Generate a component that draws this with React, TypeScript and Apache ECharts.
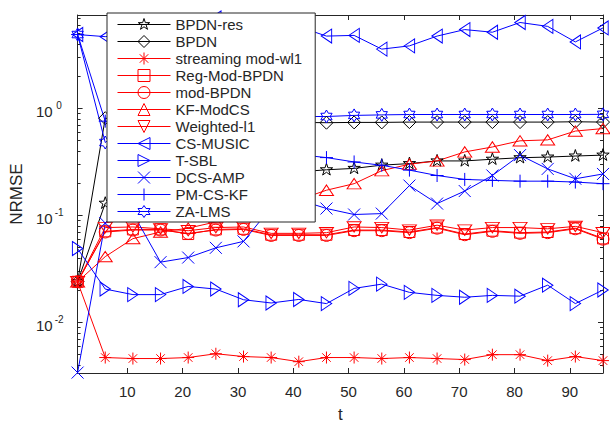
import React, { useEffect, useRef } from 'react';
import * as echarts from 'echarts';

const tValues = [1, 6, 11, 16, 21, 26, 31, 36, 41, 46, 51, 56, 61, 66, 71, 76, 81, 86, 91, 96];

const seriesNames = [
  'BPDN-res', 'BPDN', 'streaming mod-wl1', 'Reg-Mod-BPDN', 'mod-BPDN', 'KF-ModCS',
  'Weighted-l1', 'CS-MUSIC', 'T-SBL', 'DCS-AMP', 'PM-CS-KF', 'ZA-LMS',
];

const bpdnRes = [0.024, 0.13, 0.16, 0.19, 0.21, 0.22, 0.235, 0.245, 0.255, 0.267, 0.275, 0.295, 0.305, 0.323, 0.323, 0.335, 0.346, 0.351, 0.359, 0.366];
const bpdn = [0.024, 0.81, 0.76, 0.75, 0.75, 0.74, 0.74, 0.74, 0.74, 0.735, 0.74, 0.74, 0.745, 0.745, 0.745, 0.745, 0.745, 0.745, 0.75, 0.745];
const streamingModWl1 = [0.024, 0.0047, 0.0046, 0.0046, 0.0047, 0.0051, 0.0048, 0.0047, 0.0043, 0.0047, 0.0047, 0.0046, 0.0047, 0.0046, 0.0045, 0.005, 0.005, 0.0044, 0.0048, 0.0044];
const regModBpdn = [0.024, 0.071, 0.074, 0.074, 0.067, 0.074, 0.075, 0.066, 0.066, 0.066, 0.073, 0.073, 0.07, 0.077, 0.067, 0.072, 0.069, 0.07, 0.076, 0.061];
const modBpdn = [0.024, 0.07, 0.073, 0.073, 0.068, 0.073, 0.074, 0.065, 0.065, 0.065, 0.072, 0.072, 0.069, 0.076, 0.066, 0.071, 0.068, 0.069, 0.075, 0.06];
const kfModCs = [0.024, 0.0412, 0.0607, 0.07, 0.076, 0.087, 0.1, 0.118, 0.14, 0.172, 0.198, 0.262, 0.301, 0.323, 0.392, 0.436, 0.498, 0.508, 0.614, 0.648];
const weightedL1 = [0.024, 0.077, 0.078, 0.075, 0.072, 0.077, 0.078, 0.068, 0.068, 0.069, 0.078, 0.077, 0.073, 0.081, 0.073, 0.077, 0.077, 0.075, 0.079, 0.069];
const csMusic = [4.9, 4.68, 5.0, 5.5, 6.2, 7.0, 6.0, 5.6, 5.8, 4.74, 4.81, 3.58, 3.84, 4.74, 5.45, 5.15, 6.35, 5.84, 4.18, 5.65];
const tSbl = [0.049, 0.0205, 0.0182, 0.0182, 0.0217, 0.0205, 0.0163, 0.0152, 0.0164, 0.015, 0.0208, 0.0228, 0.0191, 0.0179, 0.0172, 0.0179, 0.0176, 0.0223, 0.015, 0.0201];
const dcsAmp = [0.0034, 0.085, 0.105, 0.0366, 0.0404, 0.0498, 0.0572, 0.119, 0.14, 0.116, 0.102, 0.104, 0.19, 0.129, 0.169, 0.236, 0.366, 0.272, 0.22, 0.244];
const pmCsKf = [4.9, 0.76, 0.6, 0.55, 0.5, 0.46, 0.42, 0.39, 0.37, 0.347, 0.316, 0.294, 0.265, 0.236, 0.217, 0.2125, 0.209, 0.209, 0.205, 0.198];
const zaLms = [4.9, 0.48, 0.75, 0.8, 0.82, 0.83, 0.83, 0.84, 0.84, 0.84, 0.86, 0.87, 0.877, 0.877, 0.877, 0.877, 0.877, 0.877, 0.877, 0.88];

const xTickValues = [10, 20, 30, 40, 50, 60, 70, 80, 90];
const yMajorValues = [0.01, 0.1, 1];
const yMinorValues = [
  0.004, 0.005, 0.006, 0.007, 0.008, 0.009,
  0.02, 0.03, 0.04, 0.05, 0.06, 0.07, 0.08, 0.09,
  0.2, 0.3, 0.4, 0.5, 0.6, 0.7, 0.8, 0.9,
  2, 3, 4, 5, 6, 7,
];

const BLACK = '#000000';
const RED = '#ff0000';
const BLUE = '#0000ff';
const AXIS = '#262626';
const FONT = '"Liberation Sans", Arial, Helvetica, sans-serif';

const P = {
  pentagram: 'path://M0 0M100 100M50 0L61.23 34.55L97.55 34.55L68.17 55.9L79.39 90.45L50 69.1L20.61 90.45L31.83 55.9L2.45 34.55L38.77 34.55Z',
  diamond: 'path://M50 0L100 50L50 100L0 50Z',
  asterisk: 'path://M50 0L50 100M0 50L100 50M14.6 14.6L85.4 85.4M85.4 14.6L14.6 85.4',
  square: 'path://M0 0L100 0L100 100L0 100Z',
  circle: 'path://M0 50A50 50 0 1 0 100 50A50 50 0 1 0 0 50Z',
  up: 'path://M50 0L100 86.6L0 86.6Z',
  down: 'path://M0 0L100 0L50 86.6Z',
  left: 'path://M0 50L86.6 0L86.6 100Z',
  right: 'path://M0 0L86.6 50L0 100Z',
  cross: 'path://M0 0L100 100M100 0L0 100',
  plus: 'path://M50 0L50 100M0 50L100 50',
  hexagram: 'path://M50 0L64.43 25L93.3 25L78.87 50L93.3 75L64.43 75L50 100L35.57 75L6.7 75L21.13 50L6.7 25L35.57 25Z',
};

const seriesValues = [bpdnRes, bpdn, streamingModWl1, regModBpdn, modBpdn, kfModCs, weightedL1, csMusic, tSbl, dcsAmp, pmCsKf, zaLms];
const seriesColors = [BLACK, BLACK, RED, RED, RED, RED, RED, BLUE, BLUE, BLUE, BLUE, BLUE];
const seriesSymbols = [P.pentagram, P.diamond, P.asterisk, P.square, P.circle, P.up, P.down, P.left, P.right, P.cross, P.plus, P.hexagram];
const seriesSymbolSizes: any[] = [13, 13, 12, 11, 12, [14, 12], [14, 12], [12, 14], [12, 14], 12, 13, 13];

const Y_MIN = 0.00337;
const Y_MAX = 7.46;

function supLabel(v: number) {
  const e = Math.round(Math.log10(v));
  return `{b|10}{s|${e}}`;
}

export default function App() {
  const ref = useRef<HTMLDivElement>(null);
  useEffect(() => {
    if (!ref.current) return;
    const chart = echarts.init(ref.current, null, { renderer: 'svg' });
    const series = seriesNames.map((name, i) => ({
      name,
      type: 'line',
      data: tValues.map((t, k) => [t, seriesValues[i][k]]),
      symbol: seriesSymbols[i],
      symbolSize: seriesSymbolSizes[i],
      symbolKeepAspect: true,
      showAllSymbol: true,
      clip: false,
      lineStyle: { color: seriesColors[i], width: 1 },
      itemStyle: { color: 'none', borderColor: seriesColors[i], borderWidth: 1 },
      emphasis: { disabled: true },
      z: 2,
    }));

    const baseY = {
      type: 'log',
      logBase: 10,
      min: Y_MIN,
      max: Y_MAX,
      splitLine: { show: false },
      axisLine: { onZero: false, lineStyle: { color: AXIS, width: 1 } },
    };

    chart.setOption({
      animation: false,
      backgroundColor: '#ffffff',
      textStyle: { fontFamily: FONT },
      grid: { left: 75, right: 7, top: 15, bottom: 45 },
      legend: {
        orient: 'vertical',
        left: 107,
        top: 13,
        padding: [3, 13, 2, 10],
        itemWidth: 53,
        itemHeight: 15,
        itemGap: 0,
        backgroundColor: '#ffffff',
        borderColor: AXIS,
        borderWidth: 1,
        itemStyle: { borderWidth: 1 },
        lineStyle: { width: 1 },
        textStyle: { fontSize: 15, lineHeight: 15, color: AXIS, fontFamily: FONT },
        data: seriesNames,
      },
      xAxis: [
        {
          type: 'value',
          min: 1,
          max: 96,
          position: 'bottom',
          name: 't',
          nameLocation: 'middle',
          nameGap: 33,
          nameTextStyle: { fontSize: 17, color: AXIS, fontFamily: FONT },
          axisLine: { onZero: false, lineStyle: { color: AXIS, width: 1 } },
          axisTick: { inside: true, length: 5, customValues: xTickValues, lineStyle: { color: AXIS } },
          axisLabel: { customValues: xTickValues, fontSize: 15, color: AXIS, margin: 11, fontFamily: FONT },
          splitLine: { show: false },
        },
        {
          type: 'value',
          min: 1,
          max: 96,
          position: 'top',
          axisLine: { onZero: false, lineStyle: { color: AXIS, width: 1 } },
          axisTick: { inside: true, length: 5, customValues: xTickValues, lineStyle: { color: AXIS } },
          axisLabel: { show: false },
          splitLine: { show: false },
        },
      ],
      yAxis: [
        {
          ...baseY,
          position: 'left',
          name: 'NRMSE',
          nameLocation: 'middle',
          nameGap: 45,
          nameRotate: 90,
          nameTextStyle: { fontSize: 17, color: AXIS, fontFamily: FONT },
          axisTick: { inside: true, length: 5, customValues: yMajorValues, lineStyle: { color: AXIS } },
          axisLabel: {
            customValues: yMajorValues,
            margin: 12,
            formatter: (v: number) => supLabel(v),
            rich: {
              b: { fontSize: 15, color: AXIS, fontFamily: FONT, lineHeight: 15, padding: [6, 0, 0, 0] },
              s: { fontSize: 10, color: AXIS, fontFamily: FONT, lineHeight: 10, verticalAlign: 'top', width: 13, align: 'left' },
            },
          },
        },
        {
          ...baseY,
          position: 'left',
          axisLine: { show: false, onZero: false },
          axisTick: { inside: true, length: 3, customValues: yMinorValues, lineStyle: { color: AXIS } },
          axisLabel: { show: false },
        },
        {
          ...baseY,
          position: 'right',
          axisTick: { inside: true, length: 5, customValues: yMajorValues, lineStyle: { color: AXIS } },
          axisLabel: { show: false },
        },
        {
          ...baseY,
          position: 'right',
          axisLine: { show: false, onZero: false },
          axisTick: { inside: true, length: 3, customValues: yMinorValues, lineStyle: { color: AXIS } },
          axisLabel: { show: false },
        },
      ],
      series,
    });
    return () => chart.dispose();
  }, []);
  return <div ref={ref} style={{ width: 610, height: 428, position: 'absolute', left: 0, top: 0 }} />;
}
